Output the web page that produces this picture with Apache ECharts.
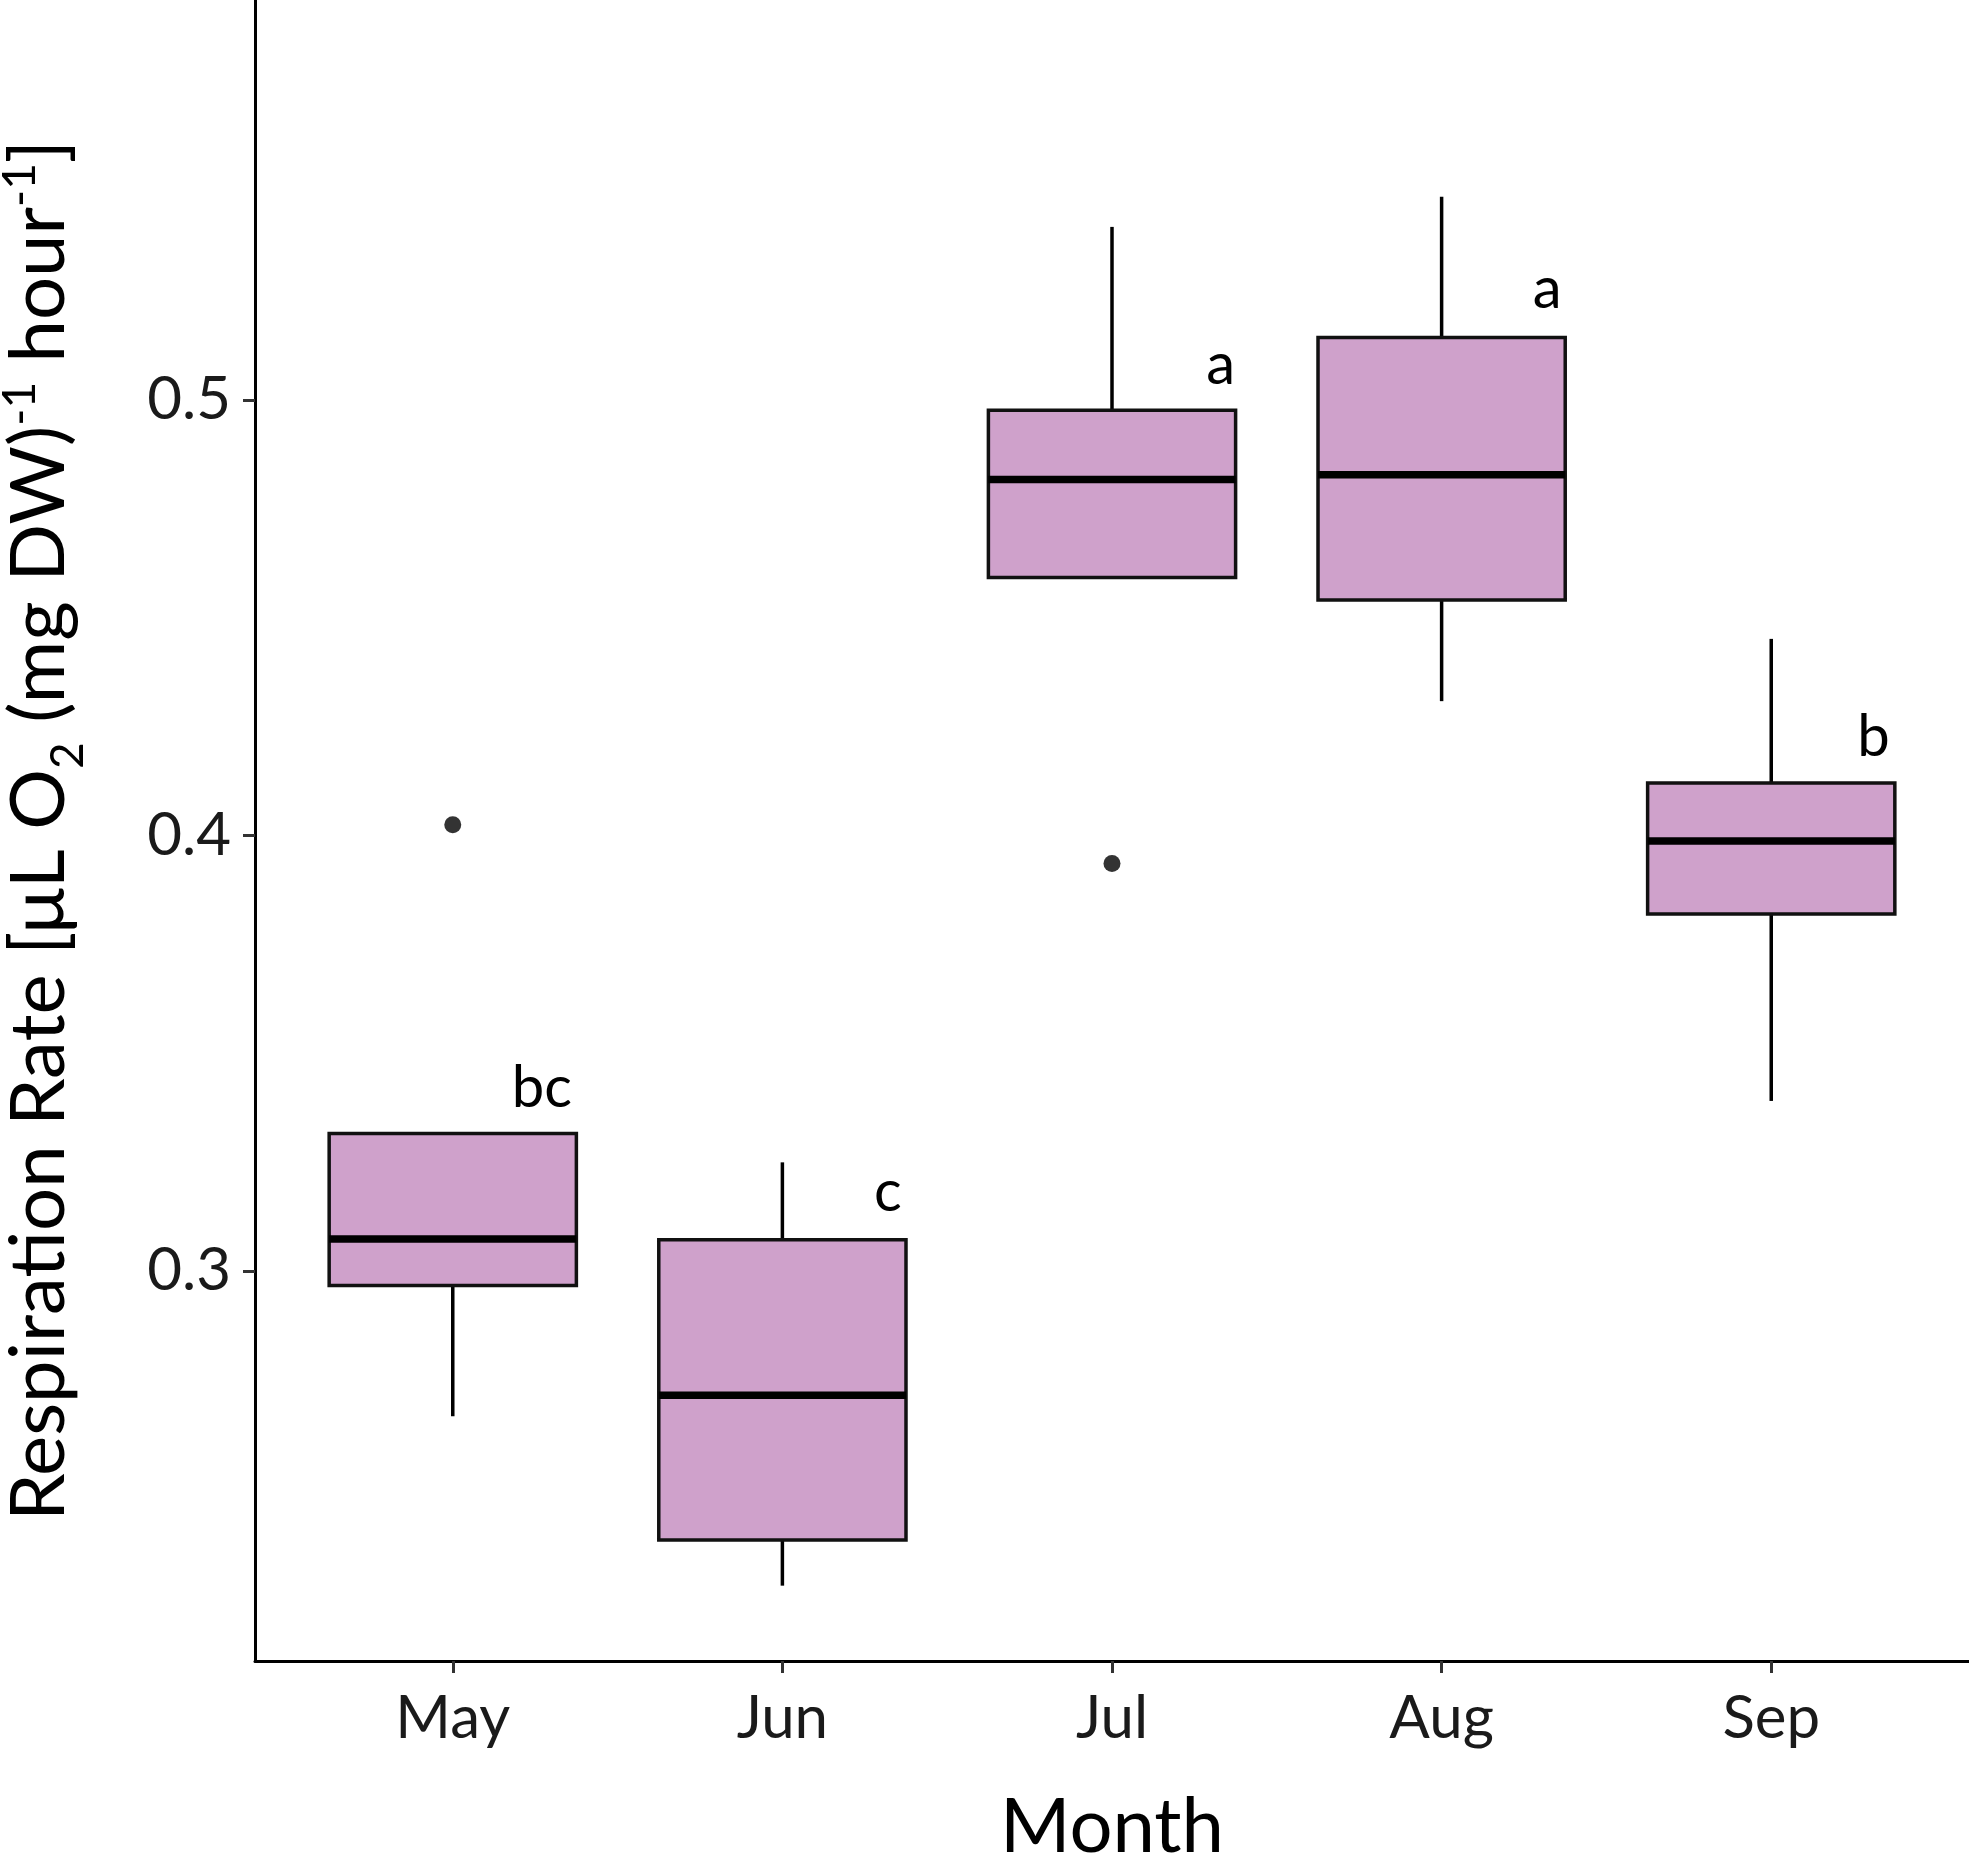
<!DOCTYPE html>
<html>
<head>
<meta charset="utf-8">
<script src="https://cdn.jsdelivr.net/npm/echarts@6/dist/echarts.min.js"></script>
<style>
  html, body { margin: 0; padding: 0; background: #fff; }
  #chart { width: 1969px; height: 1856px; }
</style>
</head>
<body>
<div id="chart"></div>
<script>
// Monthly respiration rate
const months = ['May', 'Jun', 'Jul', 'Aug', 'Sep'];
const whiskerLow = [0.2666, 0.2277, 0.4592, 0.4308, 0.3390];
const q1 = [0.2966, 0.2382, 0.4592, 0.4540, 0.3819];
const median = [0.3073, 0.2714, 0.4817, 0.4828, 0.3987];
const q3 = [0.3315, 0.3071, 0.4976, 0.5143, 0.4120];
const whiskerHigh = [0.3315, 0.3249, 0.5397, 0.5466, 0.4451];
const outlierMonth = [0, 2];
const outlierValue = [0.4024, 0.3935];
const letters = ['bc', 'c', 'a', 'a', 'b'];
const letterX = [0.27, 1.32, 2.33, 3.32, 4.31];
const letterY = [0.3420, 0.3181, 0.5080, 0.5253, 0.4224];
const yTicks = [0.3, 0.4, 0.5];

const FONT = 'Lato';
const BOX_FILL = '#cfa1cb';

const boxData = months.map((m, i) => [i, whiskerLow[i], q1[i], median[i], q3[i], whiskerHigh[i]]);
const outlierData = outlierMonth.map((m, i) => [m, outlierValue[i]]);
const letterData = letters.map((t, i) => ({ name: t, value: [letterX[i], letterY[i]] }));

function renderBox(params, api) {
  const x = api.value(0);
  const half = api.size([0.75, 0])[0] / 2;
  const pLow = api.coord([x, api.value(1)]);
  const pQ1 = api.coord([x, api.value(2)]);
  const pMed = api.coord([x, api.value(3)]);
  const pQ3 = api.coord([x, api.value(4)]);
  const pHigh = api.coord([x, api.value(5)]);
  const line = { stroke: '#000', lineWidth: 3.5 };
  return {
    type: 'group',
    children: [
      { type: 'line', shape: { x1: pLow[0], y1: pLow[1], x2: pQ1[0], y2: pQ1[1] }, style: line },
      { type: 'line', shape: { x1: pQ3[0], y1: pQ3[1], x2: pHigh[0], y2: pHigh[1] }, style: line },
      {
        type: 'rect',
        shape: { x: pQ3[0] - half, y: pQ3[1], width: half * 2, height: pQ1[1] - pQ3[1] },
        style: { fill: BOX_FILL, stroke: '#111', lineWidth: 3.5 }
      },
      {
        type: 'line',
        shape: { x1: pMed[0] - half, y1: pMed[1], x2: pMed[0] + half, y2: pMed[1] },
        style: { stroke: '#000', lineWidth: 7.5 }
      }
    ]
  };
}

const chart = echarts.init(document.getElementById('chart'));
chart.setOption({
  animation: false,
  backgroundColor: '#fff',
  grid: { left: 255, right: 0, top: 0, bottom: 195, containLabel: false, outerBoundsMode: 'none' },
  xAxis: {
    type: 'value',
    min: -0.6,
    max: 4.6,
    name: 'Month',
    nameLocation: 'middle',
    nameGap: 128,
    nameTextStyle: { fontFamily: FONT, fontSize: 76, color: '#000' },
    splitLine: { show: false },
    axisLine: { show: true, onZero: false, lineStyle: { color: '#000', width: 3 } },
    axisTick: { show: true, customValues: [0, 1, 2, 3, 4], length: 12, lineStyle: { color: '#333', width: 3 } },
    axisLabel: {
      customValues: [0, 1, 2, 3, 4],
      formatter: v => months[Math.round(v)],
      fontFamily: FONT, fontSize: 60, color: '#1a1a1a', margin: 28
    }
  },
  yAxis: {
    type: 'value',
    min: 0.2104,
    max: 0.5918,
    name: 'Respiration Rate [μL O{sub|2} (mg DW){sup|-1} hour{sup|-1}]',
    nameLocation: 'middle',
    nameGap: 168,
    nameRotate: 90,
    nameTextStyle: {
      fontFamily: FONT, fontSize: 76, color: '#000', lineHeight: 96,
      rich: {
        sub: { fontFamily: FONT, fontSize: 46, color: '#000', verticalAlign: 'bottom', lineHeight: 96, padding: [0, 0, -4, 0] },
        sup: { fontFamily: FONT, fontSize: 46, color: '#000', verticalAlign: 'top', lineHeight: 96, padding: [6, 0, 0, 0] }
      }
    },
    splitLine: { show: false },
    axisLine: { show: true, onZero: false, lineStyle: { color: '#000', width: 3 } },
    axisTick: { show: true, customValues: yTicks, length: 12, lineStyle: { color: '#333', width: 3 } },
    axisLabel: {
      customValues: yTicks,
      formatter: v => v.toFixed(1),
      fontFamily: FONT, fontSize: 60, color: '#1a1a1a', margin: 24
    }
  },
  series: [
    {
      type: 'custom',
      renderItem: renderBox,
      encode: { x: 0, y: [1, 2, 3, 4, 5] },
      data: boxData,
      z: 2
    },
    {
      type: 'scatter',
      data: outlierData,
      symbolSize: 17,
      itemStyle: { color: '#333', opacity: 1 },
      z: 3
    },
    {
      type: 'scatter',
      data: letterData,
      symbolSize: 0,
      itemStyle: { opacity: 1 },
      label: {
        show: true,
        position: 'inside',
        formatter: p => p.name,
        fontFamily: FONT, fontSize: 58, color: '#000', opacity: 1
      },
      z: 4
    }
  ]
});
</script>
</body>
</html>
